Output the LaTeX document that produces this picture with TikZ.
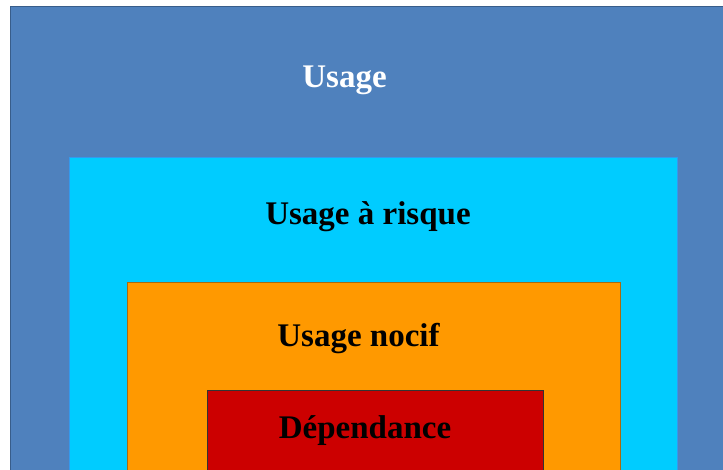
\documentclass[tikz,border=0pt]{standalone}
\usepackage{fontspec}
\setmainfont{Liberation Serif}
\definecolor{usageblue}{HTML}{4F81BD}
\definecolor{usageedge}{HTML}{385D8A}
\definecolor{risquecyan}{HTML}{00CCFF}
\definecolor{risqueedge}{HTML}{3399EE}
\definecolor{nocifor}{HTML}{FF9900}
\definecolor{nocifedge}{HTML}{A86A10}
\definecolor{depred}{HTML}{CC0000}
\tikzset{
  layer/.style={line width=1pt},
  lbl/.style={anchor=base, inner sep=0pt, font=\fontsize{33}{36}\selectfont\bfseries}
}
\begin{document}
\begin{tikzpicture}[x=1pt, y=-1pt]
  \useasboundingbox (0,0) rectangle (723,469);
  \fill[white] (0,0) rectangle (723,469);
  \clip (0,0) rectangle (723,469);
  % nested levels of use
  \draw[layer, fill=usageblue, draw=usageedge] (10.5,6) rectangle (740,490);
  \draw[layer, fill=risquecyan, draw=risqueedge] (69,157) rectangle (677,490);
  \draw[layer, fill=nocifor, draw=nocifedge] (127,282) rectangle (620,490);
  \draw[layer, fill=depred, draw=black!80] (207,390.5) rectangle (543,490);
  % labels
  \node[lbl, text=white] (usage) at (344.5,87) {Usage};
  \node[lbl, text=black] (risque) at (368,224) {Usage à risque};
  \node[lbl, text=black] (nocif) at (358.5,346) {Usage nocif};
  \node[lbl, text=black] (dependance) at (365,438) {Dépendance};
\end{tikzpicture}
\end{document}
